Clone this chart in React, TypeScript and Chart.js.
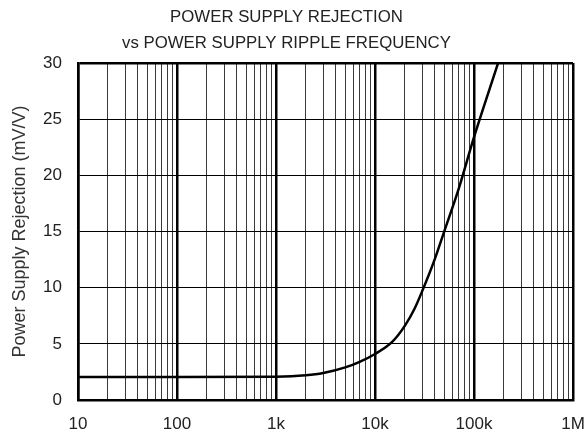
import React, { useEffect, useRef } from "react";
import { Chart, registerables } from "chart.js";

Chart.register(...registerables);

const TITLE_LINES = ["POWER SUPPLY REJECTION", "vs POWER SUPPLY RIPPLE FREQUENCY"];
const Y_TITLE = "Power Supply Rejection (mV/V)";

const FREQ = [10, 100, 1000, 2000, 3000, 5000, 7000, 10000, 15000, 20000, 25000, 30000, 40000, 50000, 70000, 100000, 150000, 175000];
const PSR = [2.05, 2.05, 2.08, 2.2, 2.4, 2.9, 3.4, 4.1, 5.2, 6.6, 8.1, 9.7, 12.5, 15, 18.8, 23.4, 28.2, 30];

const DECADES = [10, 100, 1000, 10000, 100000, 1000000];
const DECADE_LABELS = ["10", "100", "1k", "10k", "100k", "1M"];
const MINOR_MULTS = [2, 3, 4, 5, 6, 7, 8, 9];

const FONT = "Liberation Sans, Arial, sans-serif";
const isDecade = (v: number) => DECADES.some((d) => Math.abs(v - d) / d < 1e-6);

export default function App() {
  const ref = useRef<HTMLCanvasElement>(null);
  useEffect(() => {
    const tickVals: number[] = [];
    DECADES.forEach((d, i) => {
      tickVals.push(d);
      if (i < DECADES.length - 1) MINOR_MULTS.forEach((m) => tickVals.push(d * m));
    });
    const chart = new Chart(ref.current!, {
      type: "line",
      data: {
        datasets: [
          {
            data: FREQ.map((f, i) => ({ x: f, y: PSR[i] })),
            borderColor: "#000",
            borderWidth: 2.5,
            pointRadius: 0,
            cubicInterpolationMode: "monotone",
            fill: false,
          },
        ],
      },
      options: {
        animation: false,
        responsive: false,
        layout: { padding: { left: 0, right: 14, top: 4, bottom: 0 } },
        plugins: {
          legend: { display: false },
          tooltip: { enabled: false },
          title: {
            display: true,
            text: TITLE_LINES,
            color: "#222",
            font: { family: FONT, size: 16.8, weight: "normal", lineHeight: 1.55 },
            padding: { top: 0, bottom: 7 },
          },
        },
        scales: {
          x: {
            type: "logarithmic",
            min: 10,
            max: 1000000,
            afterBuildTicks: (scale: any) => {
              scale.ticks = tickVals.map((v) => ({ value: v }));
            },
            afterFit: (scale: any) => {
              scale.height = 34;
              scale.paddingLeft = 0;
              scale.paddingRight = 0;
            },
            ticks: {
              autoSkip: false,
              maxRotation: 0,
              padding: 14,
              color: "#222",
              font: { family: FONT, size: 17 },
              callback: (value: any) => {
                const idx = DECADES.findIndex((d) => Math.abs(Number(value) - d) / d < 1e-6);
                return idx >= 0 ? DECADE_LABELS[idx] : "";
              },
            },
            grid: {
              drawTicks: false,
              color: (ctx: any) => (ctx.tick && isDecade(ctx.tick.value) ? "#000" : "#3a3a3a"),
              lineWidth: (ctx: any) => (ctx.tick && isDecade(ctx.tick.value) ? 2.5 : 1),
            },
            border: { display: true, color: "#000", width: 2.5 },
          },
          y: {
            type: "linear",
            min: 0,
            max: 30,
            afterFit: (scale: any) => {
              scale.width = 78;
              scale.paddingTop = 0;
              scale.paddingBottom = 0;
            },
            ticks: {
              stepSize: 5,
              padding: 16,
              color: "#222",
              font: { family: FONT, size: 17 },
            },
            grid: {
              drawTicks: false,
              color: "#000",
              lineWidth: (ctx: any) => (ctx.tick && ctx.tick.value === 30 ? 2.5 : 1),
            },
            border: { display: true, color: "#000", width: 2.5 },
            title: {
              display: true,
              text: Y_TITLE,
              color: "#333",
              font: { family: FONT, size: 18 },
              padding: { top: 9, bottom: 0 },
            },
          },
        },
      },
    });
    return () => chart.destroy();
  }, []);
  return (
    <div style={{ position: "fixed", left: 0, top: 0, width: 587, height: 434, background: "#fff" }}>
      <canvas ref={ref} width={587} height={434} style={{ display: "block" }} />
    </div>
  );
}
